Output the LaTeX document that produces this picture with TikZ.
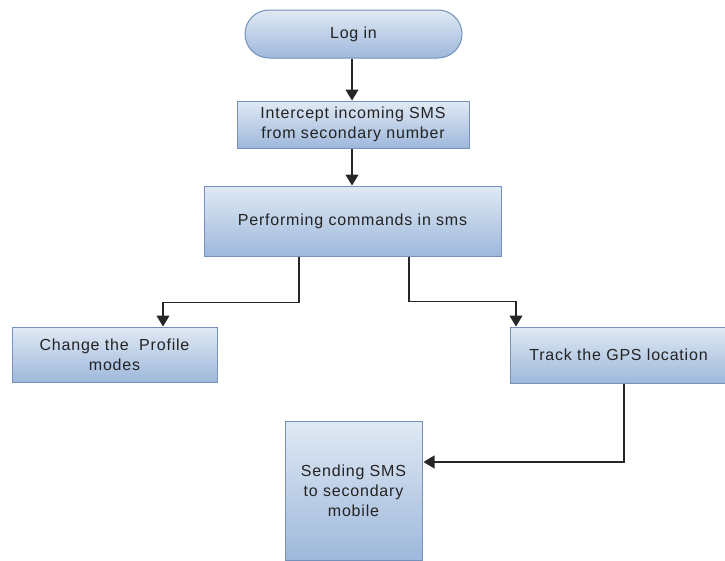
\documentclass[tikz,border=0pt]{standalone}
\usepackage{fontspec}
\newfontfamily\diagfont[LetterSpace=5]{Liberation Sans}
\usetikzlibrary{arrows.meta,shapes.misc}
\definecolor{boxtop}{RGB}{224,233,244}
\definecolor{boxbot}{RGB}{158,184,219}
\definecolor{boxline}{RGB}{115,145,185}
\definecolor{txt}{RGB}{35,35,35}
\begin{document}
\begin{tikzpicture}[x=1pt,y=-1pt,
  flowbox/.style={draw=boxline,line width=1pt,top color=boxtop,bottom color=boxbot,
    text=txt,align=center,inner sep=0pt,
    font=\diagfont\fontsize{16}{20}\selectfont},
  pill/.style={flowbox,rounded rectangle},
  arr/.style={draw=black!85,line width=1.1pt,-{Triangle[width=13pt,length=11pt]}}]
\useasboundingbox (0,0) rectangle (725,560);
\clip (0,0) rectangle (725,560);
\node[pill,minimum width=217pt,minimum height=48pt] (login) at (353.5,34) {Log in};
\node[flowbox,minimum width=232pt,minimum height=47pt] (intercept) at (353,124.5) {Intercept incoming SMS\\from secondary number};
\node[flowbox,minimum width=297pt,minimum height=70pt] (perform) at (352.5,221) {Performing commands in sms};
\node[flowbox,minimum width=205pt,minimum height=55pt] (change) at (114.5,354.5) {Change the\ \ Profile\\modes};
\node[flowbox,minimum width=217pt,minimum height=56pt] (track) at (618.5,355) {Track the GPS location};
\node[flowbox,minimum width=137pt,minimum height=139pt] (sending) at (353.5,490.5) {Sending SMS\\to secondary\\mobile};
\draw[arr] (login.south -| 352,0) -- (intercept.north -| 352,0);
\draw[arr] (intercept.south -| 352,0) -- (perform.north -| 352,0);
\draw[arr] ([xshift=-53.5pt]perform.south) -- ++(0,46) -| ([xshift=48.5pt]change.north);
\draw[arr] ([xshift=56.5pt]perform.south) -- ++(0,45) -| ([xshift=-102.5pt]track.north);
\draw[arr] ([xshift=5.5pt]track.south) |- ([yshift=28.5pt,xshift=1pt]sending.east);
\end{tikzpicture}
\end{document}
